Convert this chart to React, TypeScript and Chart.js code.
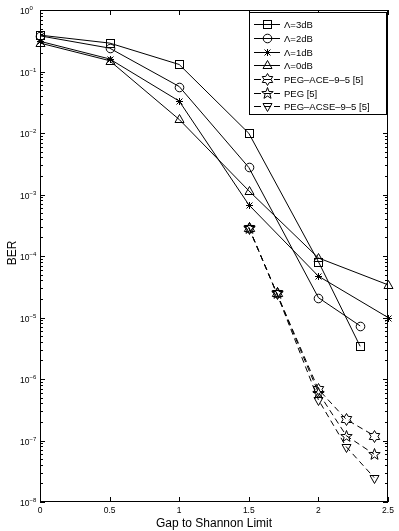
import React, { useEffect, useRef } from "react";
import { Chart, registerables } from "chart.js";
Chart.register(...registerables);

// ---- data ----
const xLambda3 = [0, 0.5, 1, 1.5, 2, 2.3];
const berLambda3 = [0.39, 0.29, 0.13, 0.0099, 8.1e-5, 3.4e-6];
const xLambda2 = [0, 0.5, 1, 1.5, 2, 2.3];
const berLambda2 = [0.38, 0.24, 0.057, 2.75e-3, 2.1e-5, 7.3e-6];
const xLambda1 = [0, 0.5, 1, 1.5, 2, 2.5];
const berLambda1 = [0.31, 0.16, 0.033, 6.8e-4, 4.7e-5, 1.0e-5];
const xLambda0 = [0, 0.5, 1, 1.5, 2, 2.5];
const berLambda0 = [0.29, 0.15, 0.0166, 1.15e-3, 9.3e-5, 3.4e-5];
const xPeg = [1.5, 1.7, 2, 2.2, 2.4];
const berPegAce = [2.9e-4, 2.5e-5, 6.8e-7, 2.2e-7, 1.2e-7];
const berPeg = [2.9e-4, 2.5e-5, 6.0e-7, 1.2e-7, 6.0e-8];
const berPegAcse = [2.9e-4, 2.5e-5, 4.6e-7, 7.9e-8, 2.5e-8];

const xTicks = [0, 0.5, 1, 1.5, 2, 2.5];
const xTickLabels = ["0", "0.5", "1", "1.5", "2", "2.5"];
const yExponents = [0, -1, -2, -3, -4, -5, -6, -7, -8];
const xTitle = "Gap to Shannon Limit";
const yTitle = "BER";

const seriesNames = [
  "\u039B=3dB",
  "\u039B=2dB",
  "\u039B=1dB",
  "\u039B=0dB",
  "PEG\u2013ACE\u20139\u20135 [5]",
  "PEG [5]",
  "PEG\u2013ACSE\u20139\u20135 [5]",
];
const seriesMarkers = ["square", "circle", "asterisk", "triUp", "hexagram", "pentagram", "triDown"];
const seriesDashed = [false, false, false, false, true, true, true];

const FONT = "'Liberation Sans', Arial, Helvetica, sans-serif";

function starPath(ctx: CanvasRenderingContext2D, cx: number, cy: number, n: number, R: number, r: number) {
  ctx.beginPath();
  for (let i = 0; i < 2 * n; i++) {
    const a = -Math.PI / 2 + (i * Math.PI) / n;
    const rad = i % 2 === 0 ? R : r;
    const px = cx + rad * Math.cos(a);
    const py = cy + rad * Math.sin(a);
    if (i === 0) ctx.moveTo(px, py);
    else ctx.lineTo(px, py);
  }
  ctx.closePath();
  ctx.stroke();
}

function drawMarker(ctx: CanvasRenderingContext2D, kind: string, x: number, y: number) {
  const cx = Math.round(x) + 0.5;
  const cy = Math.round(y) + 0.5;
  ctx.save();
  ctx.strokeStyle = "#000";
  ctx.lineWidth = 1;
  ctx.setLineDash([]);
  switch (kind) {
    case "square":
      ctx.strokeRect(cx - 4, cy - 4, 8, 8);
      break;
    case "circle":
      ctx.beginPath();
      ctx.arc(cx, cy, 4.3, 0, Math.PI * 2);
      ctx.stroke();
      break;
    case "asterisk": {
      const r = 3.5;
      const d = 3;
      ctx.beginPath();
      ctx.moveTo(cx - r, cy);
      ctx.lineTo(cx + r, cy);
      ctx.moveTo(cx, cy - r);
      ctx.lineTo(cx, cy + r);
      ctx.moveTo(cx - d, cy - d);
      ctx.lineTo(cx + d, cy + d);
      ctx.moveTo(cx - d, cy + d);
      ctx.lineTo(cx + d, cy - d);
      ctx.stroke();
      break;
    }
    case "triUp":
      ctx.beginPath();
      ctx.moveTo(cx, cy - 5);
      ctx.lineTo(cx + 4.5, cy + 3);
      ctx.lineTo(cx - 4.5, cy + 3);
      ctx.closePath();
      ctx.stroke();
      break;
    case "triDown":
      ctx.beginPath();
      ctx.moveTo(cx, cy + 5);
      ctx.lineTo(cx + 4.5, cy - 3);
      ctx.lineTo(cx - 4.5, cy - 3);
      ctx.closePath();
      ctx.stroke();
      break;
    case "hexagram":
      starPath(ctx, cx, cy, 6, 6, 3.5);
      break;
    case "pentagram":
      starPath(ctx, cx, cy, 5, 6, 2.5);
      break;
  }
  ctx.restore();
}

const markersPlugin = {
  id: "matlabMarkers",
  afterDatasetsDraw(chart: any) {
    const ctx: CanvasRenderingContext2D = chart.ctx;
    chart.data.datasets.forEach((_: any, i: number) => {
      const meta = chart.getDatasetMeta(i);
      meta.data.forEach((el: any) => drawMarker(ctx, seriesMarkers[i], el.x, el.y));
    });
  },
};

const axesPlugin = {
  id: "matlabAxes",
  afterDraw(chart: any) {
    const ctx: CanvasRenderingContext2D = chart.ctx;
    const xs = chart.scales.x;
    const ys = chart.scales.y;
    const { left, right, top, bottom } = chart.chartArea;
    ctx.save();
    ctx.strokeStyle = "#000";
    ctx.fillStyle = "#000";
    ctx.lineWidth = 1;
    ctx.setLineDash([]);
    ctx.strokeRect(left + 0.5, top + 0.5, right - left - 1, bottom - top - 1);
    ctx.beginPath();
    xTicks.forEach((v) => {
      const px = Math.round(xs.getPixelForValue(v)) + 0.5;
      ctx.moveTo(px, bottom);
      ctx.lineTo(px, bottom - 5);
      ctx.moveTo(px, top);
      ctx.lineTo(px, top + 5);
    });
    yExponents.forEach((e) => {
      const py = Math.round(ys.getPixelForValue(Math.pow(10, e))) + 0.5;
      ctx.moveTo(left, py);
      ctx.lineTo(left + 5, py);
      ctx.moveTo(right, py);
      ctx.lineTo(right - 5, py);
      if (e > -8) {
        for (let m = 2; m <= 9; m++) {
          const pm = Math.round(ys.getPixelForValue(m * Math.pow(10, e - 1))) + 0.5;
          ctx.moveTo(left, pm);
          ctx.lineTo(left + 3, pm);
          ctx.moveTo(right, pm);
          ctx.lineTo(right - 3, pm);
        }
      }
    });
    ctx.stroke();
    ctx.font = `8.5px ${FONT}`;
    ctx.textAlign = "center";
    ctx.textBaseline = "alphabetic";
    xTicks.forEach((v, i) => {
      ctx.fillText(xTickLabels[i], xs.getPixelForValue(v), bottom + 11);
    });
    yExponents.forEach((e) => {
      const py = ys.getPixelForValue(Math.pow(10, e));
      ctx.font = `8.5px ${FONT}`;
      ctx.textAlign = "right";
      ctx.fillText("10", 29.5, py + 4);
      ctx.font = `6px ${FONT}`;
      ctx.textAlign = "left";
      ctx.fillText(e === 0 ? "0" : "\u2212" + Math.abs(e), 29.5, py + 0.3);
    });
    ctx.font = `12px ${FONT}`;
    ctx.textAlign = "center";
    ctx.fillText(xTitle, (left + right) / 2, 526.5);
    ctx.save();
    ctx.translate(15.5, (top + bottom) / 2 - 3);
    ctx.rotate(-Math.PI / 2);
    ctx.fillText(yTitle, 0, 0);
    ctx.restore();

    // legend
    const lx = 249.5, ly = 12.5, lw = 137, lh = 102;
    ctx.fillStyle = "#fff";
    ctx.fillRect(lx, ly, lw, lh);
    ctx.strokeStyle = "#000";
    ctx.strokeRect(lx, ly, lw, lh);
    ctx.fillStyle = "#000";
    ctx.font = `9.5px ${FONT}`;
    ctx.textAlign = "left";
    ctx.textBaseline = "middle";
    seriesNames.forEach((name, i) => {
      const yy = Math.round(24.3 + i * 13.7) + 0.5;
      ctx.beginPath();
      ctx.setLineDash(seriesDashed[i] ? [7, 3] : []);
      ctx.moveTo(254, yy);
      ctx.lineTo(280, yy);
      ctx.stroke();
      ctx.setLineDash([]);
      drawMarker(ctx, seriesMarkers[i], 266.5, yy - 0.5);
      ctx.fillText(name, 284, yy + 0.5);
    });
    ctx.restore();
  },
};

function pts(xsArr: number[], ysArr: number[]) {
  return xsArr.map((x, i) => ({ x, y: ysArr[i] }));
}

export default function App() {
  const ref = useRef<HTMLCanvasElement | null>(null);
  useEffect(() => {
    if (!ref.current) return;
    const seriesX = [xLambda3, xLambda2, xLambda1, xLambda0, xPeg, xPeg, xPeg];
    const seriesY = [berLambda3, berLambda2, berLambda1, berLambda0, berPegAce, berPeg, berPegAcse];
    const datasets = seriesNames.map((name, i) => ({
      label: name,
      data: pts(seriesX[i], seriesY[i]),
      borderColor: "#000",
      borderWidth: 1,
      borderDash: seriesDashed[i] ? [6, 4] : [],
      pointRadius: 0,
      pointHoverRadius: 0,
      backgroundColor: "rgba(0,0,0,0)",
      fill: false,
      tension: 0,
    }));
    const chart = new Chart(ref.current, {
      type: "line",
      data: { datasets },
      options: {
        animation: false,
        responsive: false,
        events: [],
        layout: { padding: { left: 40, right: 11, top: 10, bottom: 29 } },
        plugins: { legend: { display: false }, tooltip: { enabled: false } },
        scales: {
          x: { type: "linear", min: 0, max: 2.5, display: false },
          y: { type: "logarithmic", min: 1e-8, max: 1, display: false },
        },
      },
      plugins: [markersPlugin, axesPlugin],
    });
    return () => chart.destroy();
  }, []);
  return (
    <div style={{ position: "absolute", left: 0, top: 0, width: 399, height: 531, background: "#fff" }}>
      <canvas ref={ref} width={399} height={531} style={{ display: "block", width: 399, height: 531 }} />
    </div>
  );
}
